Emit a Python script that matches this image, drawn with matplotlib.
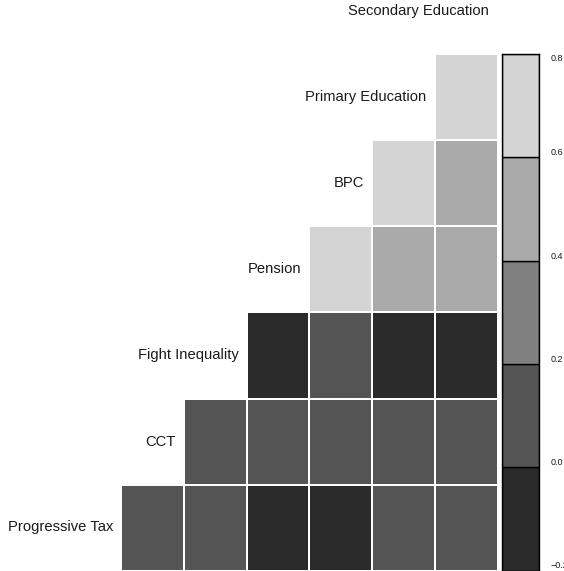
import numpy as np
import matplotlib
matplotlib.use("Agg")
import matplotlib.pyplot as plt
from matplotlib.colors import ListedColormap, BoundaryNorm

plt.rcParams['font.family'] = ['Liberation Sans', 'DejaVu Sans']

# variables, bottom row first
variables = ["Progressive Tax", "CCT", "Fight Inequality", "Pension",
             "BPC", "Primary Education", "Secondary Education"]

# pairwise correlations (upper triangle, row var vs later vars)
corr_pt = [0.08, 0.12, -0.06, -0.10, 0.05, 0.10]
corr_cct = [0.10, 0.06, 0.12, 0.08, 0.10]
corr_fi = [-0.08, 0.04, -0.12, -0.05]
corr_pen = [0.72, 0.52, 0.48]
corr_bpc = [0.68, 0.46]
corr_prim = [0.74]

bins = [-0.2, 0.0, 0.2, 0.4, 0.6, 0.8]
greys = ["#2b2b2b", "#555555", "#808080", "#aaaaaa", "#d4d4d4"]

rows = [corr_pt, corr_cct, corr_fi, corr_pen, corr_bpc, corr_prim]
n = len(variables)
M = np.full((n, n - 1), np.nan)
for r, vals in enumerate(rows):
    for k, v in enumerate(vals):
        M[r, r + k] = v
M = np.ma.masked_invalid(M)

cmap = ListedColormap(greys)
norm = BoundaryNorm(bins, cmap.N)

W, H = 564, 571
fig = plt.figure(figsize=(W / 100, H / 100), dpi=100)

# pixel geometry of the grid
x0, cw = 121.3, 62.7
yb, rh = 570.5, 86.0
ax = fig.add_axes([0, 0, 1, 1])
ax.set_xlim((0 - x0) / cw, (W - x0) / cw)
ax.set_ylim((yb - H) / rh, yb / rh)
ax.axis("off")

ax.pcolormesh(np.arange(n), np.arange(n + 1), M, cmap=cmap, norm=norm,
              edgecolors="white", linewidth=1.4)

for r, name in enumerate(variables):
    ax.text(r - 0.13, r + 0.5, name, ha="right", va="center",
            fontsize=10.6, color="#1a1a1a")

# colorbar
cb_left, cb_right, cb_top = 501.7, 538.7, 54.0
cax = fig.add_axes([cb_left / W, (H - yb) / H, (cb_right - cb_left) / W,
                    (yb - cb_top) / H])
for i, c in enumerate(greys):
    cax.bar(0.5, bins[i + 1] - bins[i], bottom=bins[i], width=1,
            color=c, edgecolor="black", linewidth=1)
cax.set_xlim(0, 1)
cax.set_ylim(bins[0], bins[-1])
cax.set_xticks([])
cax.yaxis.tick_right()
cax.set_yticks(bins)
cax.set_yticklabels(["\u22120.2", "0.0", "0.2", "0.4", "0.6", "0.8"])
cax.tick_params(axis="y", length=0, pad=8.6, labelsize=6.5, labelcolor="#1a1a1a")
labels = cax.get_yticklabels()
for lab in labels[:-1]:
    lab.set_verticalalignment("bottom")
labels[-1].set_verticalalignment("top")
for s in cax.spines.values():
    s.set_linewidth(1)

fig.savefig("out.png", dpi=100)
